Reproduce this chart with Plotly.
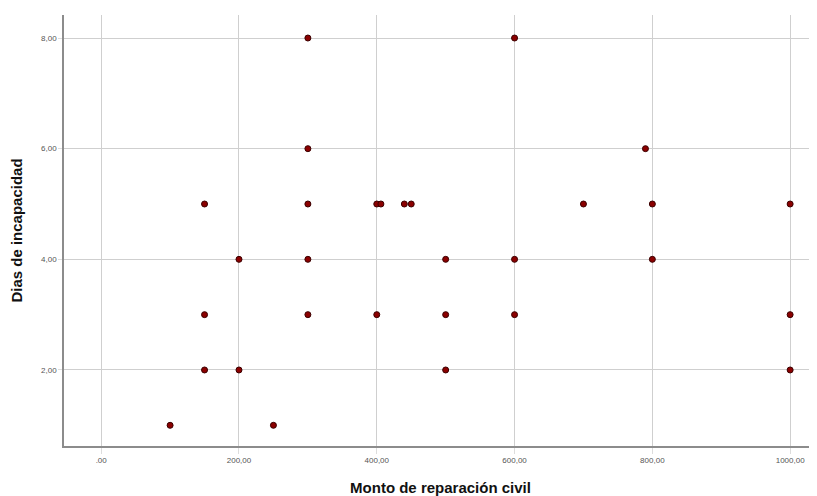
import plotly.graph_objects as go

monto = [100, 250, 150, 200, 500, 1000, 150, 300, 400, 500, 600, 1000,
         200, 300, 500, 600, 800, 150, 300, 400, 406, 440, 450, 700, 800, 1000,
         300, 790, 300, 600]
dias = [1, 1, 2, 2, 2, 2, 3, 3, 3, 3, 3, 3,
        4, 4, 4, 4, 4, 5, 5, 5, 5, 5, 5, 5, 5, 5,
        6, 6, 8, 8]

x_tickvals = [0, 200, 400, 600, 800, 1000]
x_ticktext = [".00", "200,00", "400,00", "600,00", "800,00", "1000,00"]
y_tickvals = [2, 4, 6, 8]
y_ticktext = ["2,00", "4,00", "6,00", "8,00"]

fig = go.Figure()
fig.add_trace(go.Scatter(
    x=monto, y=dias, mode="markers",
    marker=dict(size=6, color="#8b0000", line=dict(color="#3a0000", width=1)),
    showlegend=False,
))

fig.update_layout(
    width=809, height=488,
    margin=dict(l=56, r=0, t=7, b=50, autoexpand=False),
    paper_bgcolor="white", plot_bgcolor="white",
    font=dict(family="Liberation Sans, Arial, sans-serif", color="#333"),
)
fig.update_xaxes(
    range=[-54, 1039], tickvals=x_tickvals, ticktext=x_ticktext,
    automargin=False,
    showgrid=True, gridcolor="#cfcfcf", gridwidth=1,
    showline=True, linecolor="#8c8c8c", linewidth=1.5,
    zeroline=False, ticks="outside", ticklen=6, tickcolor="#dddddd",
    tickfont=dict(size=8, color="#555"),
    title=dict(text="Monto de reparación civil",
               font=dict(size=15, color="#111", weight="bold"), standoff=20),
)
fig.update_yaxes(
    range=[0.626, 8.416], tickvals=y_tickvals, ticktext=y_ticktext,
    automargin=False,
    showgrid=True, gridcolor="#cfcfcf", gridwidth=1,
    showline=True, linecolor="#8c8c8c", linewidth=1.5,
    zeroline=False, ticks="outside", ticklen=4, tickcolor="#dddddd",
    tickfont=dict(size=8, color="#555"),
    title=dict(text="Dias de incapacidad",
               font=dict(size=15, color="#111", weight="bold"), standoff=18),
)

fig.write_html("out.html")
